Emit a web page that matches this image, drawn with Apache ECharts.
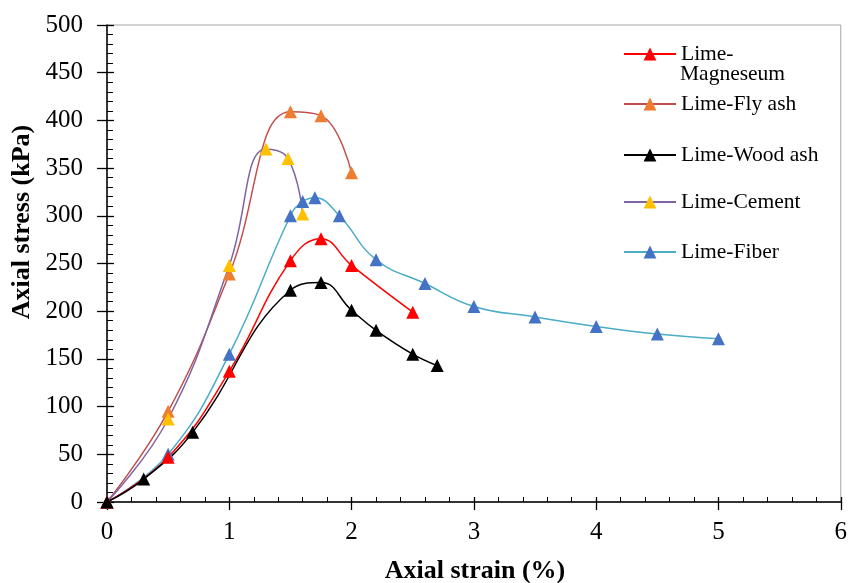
<!DOCTYPE html>
<html>
<head>
<meta charset="utf-8">
<script src="https://cdn.jsdelivr.net/npm/echarts@6/dist/echarts.min.js"></script>
<style>
html, body { margin: 0; padding: 0; background: #fff; }
#main { width: 850px; height: 583px; }
</style>
</head>
<body>
<div id="main"></div>
<script>
// values: strain (%) / stress (kPa)
var seriesNames = ['Lime-Magneseum', 'Lime-Fly ash', 'Lime-Wood ash', 'Lime-Cement', 'Lime-Fiber'];

var magStrain = [0, 0.5, 1, 1.5, 1.75, 2, 2.5];
var magStress = [0, 47, 137, 253, 276, 248, 199];

var flyStrain = [0, 0.5, 1, 1.5, 1.75, 2];
var flyStress = [0, 95, 239, 409, 405, 345];

var woodStrain = [0, 0.3, 0.7, 1.5, 1.75, 2, 2.2, 2.5, 2.7];
var woodStress = [0, 24, 73, 222, 230, 201, 180, 155, 143];

var cemStrain = [0, 0.5, 1, 1.3, 1.48, 1.6];
var cemStress = [0, 87, 248, 370, 360, 302];

var fibStrain = [0, 0.5, 1, 1.5, 1.6, 1.7, 1.9, 2.2, 2.6, 3, 3.5, 4, 4.5, 5];
var fibStress = [0, 50, 155, 300, 315, 319, 300, 254, 229, 205, 194, 184, 176, 171];

var xTicks = [0, 1, 2, 3, 4, 5, 6];
var yTicks = [0, 50, 100, 150, 200, 250, 300, 350, 400, 450, 500];

function zip(xs, ys) {
	return xs.map(function(x, i) { return [x, ys[i]]; });
}

var font = 'Liberation Serif';
var myChart = echarts.init(document.getElementById('main'));

function makeSeries(name, data, lineColor, markColor) {
	return {
		name: name,
		type: 'line',
		data: data,
		smooth: 0.45,
		symbol: 'triangle',
		symbolSize: 13,
		xAxisIndex: 0,
		yAxisIndex: 0,
		lineStyle: { color: lineColor, width: 1.5 },
		itemStyle: { color: markColor, borderWidth: 0 },
		emphasis: { disabled: true },
		z: 3
	};
}

function makeLegend(name, top, fmt) {
	return {
		data: [name],
		left: 623,
		top: top,
		orient: 'vertical',
		itemWidth: 52,
		itemHeight: 16,
		padding: 0,
		selectedMode: false,
		formatter: fmt || '{name}',
		textStyle: { fontFamily: font, fontSize: 21.5, color: '#000' }
	};
}

var option = {
	animation: false,
	backgroundColor: '#fff',
	grid: {
		left: 107, right: 8, top: 25, bottom: 81,
		show: true, borderColor: '#a6a6a6', borderWidth: 1
	},
	legend: [
		makeLegend(seriesNames[0], 43, function() { return 'Lime-'; }),
		makeLegend(seriesNames[1], 93),
		makeLegend(seriesNames[2], 144),
		makeLegend(seriesNames[3], 191),
		makeLegend(seriesNames[4], 241)
	],
	graphic: [
		{ type: 'text', left: 680, top: 63, style: { text: 'Magneseum', font: '21.5px "Liberation Serif"', fill: '#000' } },
		{ type: 'text', x: 22, y: 222, rotation: Math.PI / 2,
		  style: { text: 'Axial stress (kPa)', font: 'bold 26px "Liberation Serif"', fill: '#000', align: 'center', verticalAlign: 'middle' } },
		{ type: 'text', x: 475, y: 571,
		  style: { text: 'Axial strain (%)', font: 'bold 26px "Liberation Serif"', fill: '#000', align: 'center', verticalAlign: 'middle' } }
	],
	xAxis: [{
		type: 'value', position: 'bottom',
		min: xTicks[0], max: xTicks[xTicks.length - 1], interval: 1,
		axisLine: { onZero: false, lineStyle: { color: '#000', width: 1.5 } },
		axisTick: { show: true, length: 8, lineStyle: { color: '#000', width: 1.3 } },
		axisLabel: { margin: 18, fontFamily: font, fontSize: 25, color: '#000' },
		splitLine: { show: false }
	}, {
		type: 'value', position: 'bottom',
		min: xTicks[0], max: xTicks[xTicks.length - 1], interval: 1,
		axisLine: { show: false, onZero: false },
		axisTick: { show: true, inside: true, length: 5, lineStyle: { color: '#000', width: 1.3 } },
		minorTick: { show: true, splitNumber: 5, length: 5, lineStyle: { color: '#000', width: 1 } },
		axisLabel: { show: false },
		splitLine: { show: false }
	}],
	yAxis: [{
		type: 'value', position: 'left',
		min: yTicks[0], max: yTicks[yTicks.length - 1], interval: 50,
		axisLine: { show: true, onZero: false, lineStyle: { color: '#000', width: 1.5 } },
		axisTick: { show: true, length: 10, lineStyle: { color: '#000', width: 1.3 } },
		axisLabel: { margin: 24, fontFamily: font, fontSize: 25, color: '#000' },
		splitLine: { show: false }
	}, {
		type: 'value', position: 'left',
		min: yTicks[0], max: yTicks[yTicks.length - 1], interval: 50,
		axisLine: { show: false, onZero: false },
		axisTick: { show: true, inside: true, length: 7, lineStyle: { color: '#000', width: 1.3 } },
		minorTick: { show: true, splitNumber: 5, length: 6, lineStyle: { color: '#000', width: 1 } },
		axisLabel: { show: false },
		splitLine: { show: false }
	}],
	series: [
		makeSeries(seriesNames[1], zip(flyStrain, flyStress), '#c0504d', '#ed7d31'),
		makeSeries(seriesNames[3], zip(cemStrain, cemStress), '#8064a2', '#ffc000'),
		makeSeries(seriesNames[4], zip(fibStrain, fibStress), '#4bacc6', '#4472c4'),
		makeSeries(seriesNames[0], zip(magStrain, magStress), '#ff0000', '#ff0000'),
		makeSeries(seriesNames[2], zip(woodStrain, woodStress), '#000000', '#000000')
	]
};

if (option && typeof option === 'object') {
	myChart.setOption(option, true);
}
</script>
</body>
</html>
